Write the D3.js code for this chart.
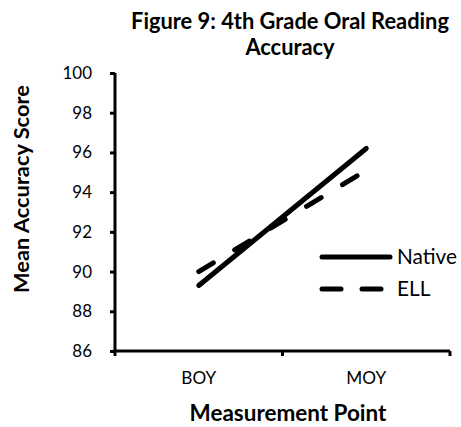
<!DOCTYPE html>
<html>
<head>
<meta charset="utf-8">
<script src="https://cdn.jsdelivr.net/npm/d3@7"></script>
<style>
  html, body { margin: 0; padding: 0; background: #fff; }
  svg { display: block; font-family: Lato, "Open Sans", sans-serif; }
</style>
</head>
<body>
<svg id="chart" width="461" height="427"></svg>
<script>
// ---- Data ----
const categories = ["BOY", "MOY"];
const nativeValues = [89.3, 96.2];
const ellValues = [90.0, 95.1];
const seriesNames = ["Native", "ELL"];
const yTicks = [86, 88, 90, 92, 94, 96, 98, 100];
const titleLines = ["Figure 9: 4th Grade Oral Reading", "Accuracy"];
const xTitle = "Measurement Point";
const yTitle = "Mean Accuracy Score";

const series = [
  { name: seriesNames[0], values: nativeValues, dash: null },
  { name: seriesNames[1], values: ellValues, dash: "17,25" }
];

const FONT = "Lato, 'Open Sans', sans-serif";
const svg = d3.select("#chart");
const margin = { left: 115, right: 11, top: 73, bottom: 76 };
const W = 461, H = 427;

// size helper: font size so that a sample string takes a given width
function fitSize(str, targetW, weight) {
  const t = svg.append("text").style("font-family", FONT).style("font-weight", weight || "normal")
    .style("font-size", "20px").text(str);
  const w = t.node().getComputedTextLength();
  t.remove();
  return 20 * targetW / w;
}

const titleSize = fitSize(titleLines[0], 318, "bold");
const tickSize = fitSize("100", 29.5);
const catSize = fitSize("BOY", 35);
const xTitleSize = fitSize(xTitle, 197, "bold");
const yTitleSize = fitSize(yTitle, 208, "bold");
const legendSize = fitSize("Native", 60);

const x = d3.scaleBand().domain(categories).range([margin.left, W - margin.right]);
const y = d3.scaleLinear().domain([86, 100]).range([H - margin.bottom, margin.top]);

// Title
const title = svg.append("text")
  .attr("x", 290).attr("y", 29)
  .attr("text-anchor", "middle")
  .style("font-weight", "bold").style("font-size", titleSize + "px");
titleLines.forEach((t, i) => {
  title.append("tspan").attr("x", 290).attr("dy", i === 0 ? 0 : 26).text(t);
});

// Y axis
const yAxis = svg.append("g")
  .attr("transform", `translate(${margin.left},0)`)
  .call(d3.axisLeft(y).tickValues(yTicks).tickSize(5).tickPadding(18).tickFormat(d3.format("d")));
yAxis.select(".domain").attr("stroke", "#000").attr("stroke-width", 3)
  .attr("d", `M0,${y(100)}V${y(86)}`);
yAxis.selectAll(".tick line").attr("stroke-width", 3);
yAxis.selectAll(".tick text").style("font-size", tickSize + "px").style("font-family", FONT).attr("fill", "#000");

// X axis
const xAxis = svg.append("g")
  .attr("transform", `translate(0,${y(86)})`)
  .call(d3.axisBottom(x).tickSize(0).tickPadding(21));
xAxis.select(".domain").attr("stroke", "#000").attr("stroke-width", 3)
  .attr("d", `M${margin.left - 1.5},0H${W - margin.right}`);
xAxis.selectAll(".tick text").style("font-size", catSize + "px").style("font-family", FONT).attr("fill", "#000");
// category boundary ticks
const bounds = [x.range()[0], x.range()[0] + x.bandwidth(), x.range()[1]];
xAxis.selectAll("line.bound").data(bounds).enter().append("line")
  .attr("class", "bound")
  .attr("x1", d => d).attr("x2", d => d).attr("y1", 0).attr("y2", 5)
  .attr("stroke", "#000").attr("stroke-width", 3);

// Axis titles
svg.append("text")
  .attr("x", 288).attr("y", 421)
  .attr("text-anchor", "middle")
  .style("font-weight", "bold").style("font-size", xTitleSize + "px")
  .text(xTitle);
svg.append("text")
  .attr("transform", `translate(29,189) rotate(-90)`)
  .attr("text-anchor", "middle")
  .style("font-weight", "bold").style("font-size", yTitleSize + "px")
  .text(yTitle);

// Lines
const line = d3.line()
  .x((d, i) => x(categories[i]) + x.bandwidth() / 2)
  .y(d => y(d));

series.forEach(s => {
  svg.append("path")
    .datum(s.values)
    .attr("d", line)
    .attr("fill", "none")
    .attr("stroke", "#000")
    .attr("stroke-width", 5)
    .attr("stroke-linecap", "round")
    .attr("stroke-dasharray", s.dash);
});

// Legend
const legend = svg.append("g");
series.forEach((s, i) => {
  const ly = 257 + i * 32;
  legend.append("line")
    .attr("x1", 322).attr("x2", 390).attr("y1", ly).attr("y2", ly)
    .attr("stroke", "#000").attr("stroke-width", 5)
    .attr("stroke-linecap", "round")
    .attr("stroke-dasharray", s.dash ? "19,21" : null);
  legend.append("text")
    .attr("x", 397).attr("y", ly).attr("dy", "0.36em")
    .style("font-size", legendSize + "px")
    .text(s.name);
});
</script>
</body>
</html>
